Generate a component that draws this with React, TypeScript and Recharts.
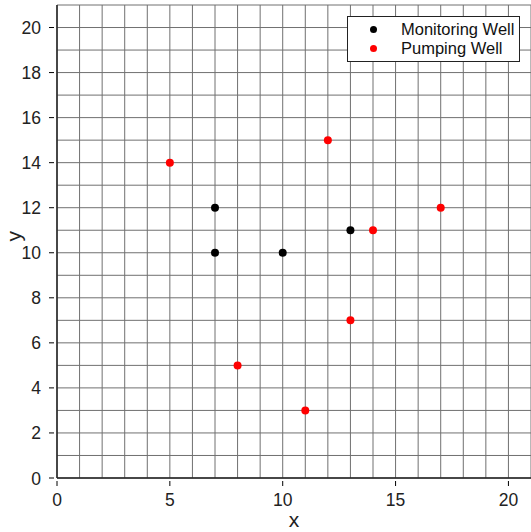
import React from "react";
import {
  ScatterChart,
  Scatter,
  XAxis,
  YAxis,
  CartesianGrid,
  Label,
} from "recharts";

// monitoring wells
const monitoringX = [7, 7, 10, 13];
const monitoringY = [12, 10, 10, 11];

// pumping wells
const pumpingX = [5, 12, 14, 17, 13, 8, 11];
const pumpingY = [14, 15, 11, 12, 7, 5, 3];

const gridTicks = Array.from({ length: 22 }, (_, i) => i);
const xLabelTicks = [0, 5, 10, 15, 20];
const yLabelTicks = [0, 2, 4, 6, 8, 10, 12, 14, 16, 18, 20];

const monitoring = monitoringX.map((x, i) => ({ x, y: monitoringY[i] }));
const pumping = pumpingX.map((x, i) => ({ x, y: pumpingY[i] }));

const FONT = "'Liberation Sans', Arial, Helvetica, sans-serif";

const XTick = ({ x, y, payload }: any) => {
  if (!xLabelTicks.includes(payload.value)) return null;
  return (
    <g>
      <line x1={x} x2={x} y1={y} y2={y - 5} stroke="#000" strokeWidth={1} />
      <text x={x} y={y + 20} textAnchor="middle" fontSize={17.5} fill="#222" fontFamily={FONT}>
        {payload.value}
      </text>
    </g>
  );
};

const YTick = ({ x, y, payload }: any) => {
  if (!yLabelTicks.includes(payload.value)) return null;
  return (
    <g>
      <line x1={x} x2={x + 5} y1={y} y2={y} stroke="#000" strokeWidth={1} />
      <text x={x - 8} y={y + 6.5} textAnchor="end" fontSize={17.5} fill="#222" fontFamily={FONT}>
        {payload.value}
      </text>
    </g>
  );
};

const legendItems = [
  { name: "Monitoring Well", color: "#000" },
  { name: "Pumping Well", color: "#ff0000" },
];

const LegendBox = () => (
  <div
    style={{
      position: "absolute",
      left: 347,
      top: 16,
      width: 173,
      height: 46,
      border: "1px solid #222",
      background: "#fff",
      fontFamily: FONT,
      fontSize: 16.5,
      color: "#111",
      boxSizing: "border-box",
      paddingTop: 3,
    }}
  >
    {legendItems.map((item) => (
      <div key={item.name} style={{ display: "flex", alignItems: "center", height: 19 }}>
        <span
          style={{
            display: "inline-block",
            width: 7,
            height: 7,
            borderRadius: "50%",
            background: item.color,
            marginLeft: 22,
            marginRight: 24,
          }}
        />
        <span>{item.name}</span>
      </div>
    ))}
  </div>
);

export default function App() {
  return (
    <div style={{ position: "absolute", left: 0, top: 0, width: 531, height: 532, background: "#fff" }}>
      <ScatterChart
        width={531}
        height={532}
        margin={{ top: 5, right: 0, bottom: 0, left: 0 }}
      >
        <CartesianGrid stroke="#707070" strokeWidth={1} />
        <XAxis
          type="number"
          dataKey="x"
          domain={[0, 21]}
          ticks={gridTicks}
          interval={0}
          height={54}
          tick={<XTick />}
          tickLine={false}
          axisLine={{ stroke: "#222", strokeWidth: 1.5 }}
          allowDataOverflow
        >
          <Label value="x" position="insideBottom" offset={5} fontSize={21} fill="#222" fontFamily={FONT} />
        </XAxis>
        <YAxis
          type="number"
          dataKey="y"
          domain={[0, 21]}
          ticks={gridTicks}
          interval={0}
          width={57}
          tick={<YTick />}
          tickLine={false}
          axisLine={{ stroke: "#222", strokeWidth: 1.5 }}
          allowDataOverflow
        >
          <Label value="y" angle={-90} position="insideLeft" offset={14} fontSize={21} fill="#222" fontFamily={FONT} />
        </YAxis>
        <Scatter
          name="Monitoring Well"
          data={monitoring}
          fill="#000"
          shape={(p: any) => <circle cx={p.cx} cy={p.cy} r={4} fill="#000" />}
          isAnimationActive={false}
        />
        <Scatter
          name="Pumping Well"
          data={pumping}
          fill="#ff0000"
          shape={(p: any) => <circle cx={p.cx} cy={p.cy} r={4} fill="#ff0000" />}
          isAnimationActive={false}
        />
      </ScatterChart>
      <LegendBox />
    </div>
  );
}
